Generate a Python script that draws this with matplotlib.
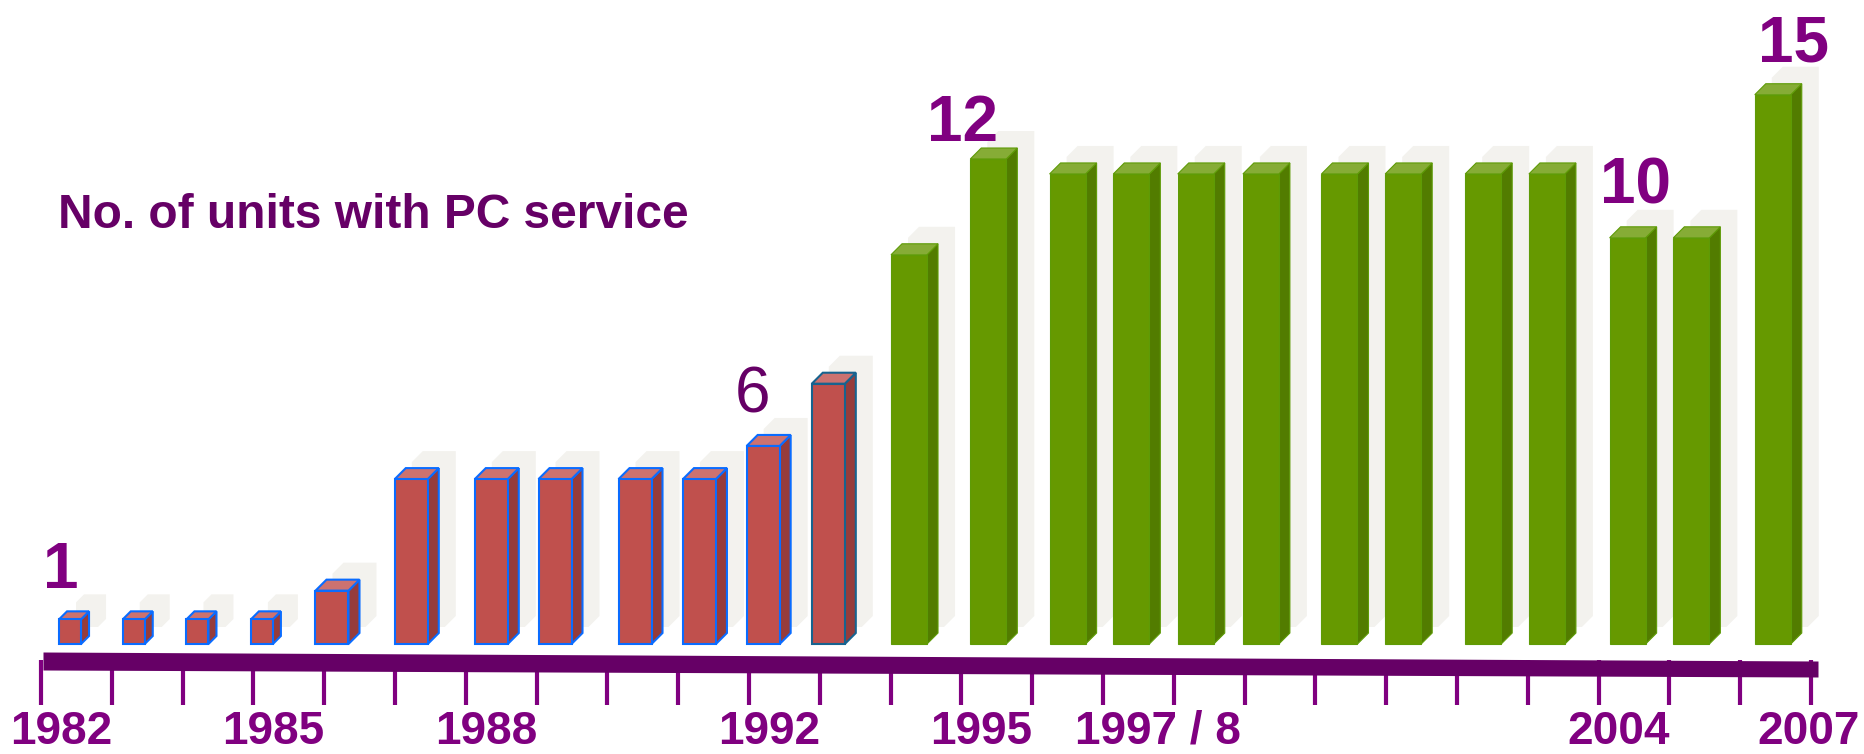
import matplotlib
matplotlib.use('Agg')
import matplotlib.pyplot as plt
from matplotlib.patches import Polygon

# bar centres on the year axis and bar heights
bar_years = [1982.41, 1983.31, 1984.21, 1985.12, 1986.11, 1987.23, 1988.36, 1989.26,
             1990.39, 1991.30, 1992.20, 1993.12, 1994.26, 1995.38, 1996.50, 1997.40,
             1998.31, 1999.23, 2000.34, 2001.24, 2002.37, 2003.27, 2004.41, 2005.31,
             2006.46]
units = [0.61, 0.61, 0.61, 0.61, 1.32, 4.08, 4.08, 4.08, 4.08, 4.08, 4.90, 6.44,
         9.63, 12.0, 11.63, 11.63, 11.63, 11.63, 11.63, 11.63, 11.63, 11.63,
         10.05, 10.05, 13.59]
phase = ['old'] * 12 + ['new'] * 13

tick_years = list(range(1982, 2008))
year_labels = ['1982', '1985', '1988', '1992', '1995', '1997 / 8', '2004', '2007']
year_label_pos = [1982, 1985, 1988, 1992, 1995, 1997.5, 2004, 2007]

# callouts above some of the bars
callout_bar = [0, 10, 13, 22, 24]
callout_text = ['1', '6', '12', '10', '15']

# canvas 1864 x 754 px, one axes over the whole figure
W, H, DPI = 1864, 754, 100
XPX = 70.8          # pixels per year
YPX = 485 / 12.0    # pixels per unit
BASE = 644          # baseline, px from top

fig = plt.figure(figsize=(W / DPI, H / DPI), dpi=DPI)
ax = fig.add_axes([0, 0, 1, 1])
x0 = 1982 - 41 / XPX
ax.set_xlim(x0, x0 + W / XPX)
ax.set_ylim(-(H - BASE) / YPX, BASE / YPX)
ax.axis('off')

FONT = ['Liberation Sans', 'DejaVu Sans']

colours = {
    'old': dict(face='#C0504D', side='#963C3B', top='#CC7270', edge='#0A6CFF'),
    'new': dict(face='#669900', side='#527C00', top='#86AC36', edge='#5E9B06'),
}
shadow = '#F3F2EE'


def prism(i):
    # front face, side, top as polygons in data units
    narrow = units[i] < 1
    w = (22 if narrow else (33 if phase[i] == 'old' else 36)) / XPX
    d = 8 if narrow else 11
    dx, dy = d / XPX, d / YPX
    L, R, h = bar_years[i] - w / 2, bar_years[i] + w / 2, units[i]
    front = [(L, 0), (R, 0), (R, h), (L, h)]
    side = [(R, 0), (R + dx, dy), (R + dx, h + dy), (R, h)]
    top = [(L, h), (R, h), (R + dx, h + dy), (L + dx, h + dy)]
    outline = [(L, 0), (R, 0), (R + dx, dy), (R + dx, h + dy), (L + dx, h + dy), (L, h)]
    return front, side, top, outline


# soft shadows behind everything
sx, sy = 17 / XPX, 17 / YPX
for i in range(len(units)):
    outline = prism(i)[3]
    ax.add_patch(Polygon([(x + sx, y + sy) for x, y in outline], closed=True,
                         facecolor=shadow, edgecolor='none', zorder=1))

for i in range(len(units)):
    front, side, top, _ = prism(i)
    c = colours[phase[i]]
    edge = '#17638F' if i == 11 else c['edge']
    lw = 1.5 if phase[i] == 'old' else 0.8
    ax.add_patch(Polygon(side, closed=True, facecolor=c['side'], edgecolor=edge, lw=lw, zorder=3))
    ax.add_patch(Polygon(top, closed=True, facecolor=c['top'], edgecolor=edge, lw=lw, zorder=3))
    ax.add_patch(Polygon(front, closed=True, facecolor=c['face'], edgecolor=edge, lw=lw, zorder=4))

# axis band and year ticks
band_x = [1982 + 2 / XPX, 2007 + 7 / XPX]
ax.vlines(tick_years, -(705 - BASE) / YPX, -(660 - BASE) / YPX, colors='#800080', lw=3, zorder=2)
ax.fill_between(band_x, [-(652 - BASE) / YPX, -(661 - BASE) / YPX],
                [-(670 - BASE) / YPX, -(677 - BASE) / YPX], color='#660066', lw=0, zorder=5)

ylab = -(744 - BASE) / YPX
for lab, pos in zip(year_labels, year_label_pos):
    if lab == year_labels[-1]:
        ax.text(x0 + 1860 / XPX, ylab, lab, ha='right', va='baseline', fontsize=33,
                fontweight='bold', color='#800080', family=FONT)
    else:
        ax.text(pos + 20 / XPX, ylab, lab, ha='center', va='baseline', fontsize=33,
                fontweight='bold', color='#800080', family=FONT)

# callouts
offsets = [(-9, 31), (-11, 33), (-26, 18), (8, 34), (21, 33)]
for b, txt, (ox, oy) in zip(callout_bar, callout_text, offsets):
    plain = txt == '6'
    ax.annotate(txt, xy=(bar_years[b], units[b]), xytext=(ox, oy), textcoords='offset pixels',
                ha='center', va='baseline', fontsize=46,
                fontweight='normal' if plain else 'bold',
                color='#660066' if plain else '#800080', family=FONT, zorder=6)

fig.text(58 / W, 1 - 228 / H, 'No. of units with PC service', ha='left', va='baseline',
         fontsize=34.5, fontweight='bold', color='#660066', family=FONT)

fig.savefig('out.png', dpi=DPI, facecolor='white')
